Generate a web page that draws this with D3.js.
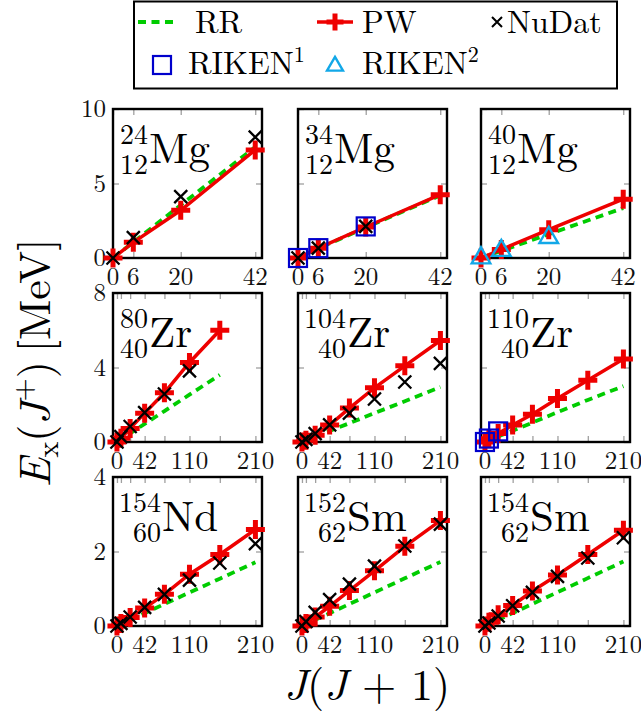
<!DOCTYPE html>
<html><head><meta charset="utf-8">
<script src="https://cdn.jsdelivr.net/npm/d3@7/dist/d3.min.js"></script>
</head>
<body style="margin:0;background:#fff">
<svg id="chart" width="641" height="717"></svg>
<script>
// ---- data ----
const jjMg = [0, 6, 20, 42];
const jjHeavy = [0, 6, 20, 42, 72, 110, 156, 210];
const xTicksMg = [0, 6, 20, 42];
const xTickLabelsMg = [0, 6, 20, 42];
const xTicksHeavy = [0, 6, 20, 42, 72, 110, 156, 210];
const xTickLabelsHeavy = [0, 42, 110, 210];
const yTicksRow = [[0, 5, 10], [0, 4, 8], [0, 2, 4]];
const yMaxRow = [10, 8, 4];

const mg24PW = [0, 1.05, 3.2, 7.25];
const mg24RR = [0, 1.06, 3.55, 7.45];
const mg24Nu = [0, 1.37, 4.12, 8.11];

const mg34PW = [0, 0.66, 2.08, 4.25];
const mg34RR = [0, 0.64, 2.05, 4.2];
const mg34Nu = [0, 0.66, 2.12];
const mg34Riken1 = [0, 0.66, 2.12];

const mg40PW = [0, 0.57, 1.9, 3.95];
const mg40RR = [0, 0.48, 1.6, 3.35];
const mg40Riken2 = [0, 0.5, 1.37];

const zr80PW = [0, 0.2, 0.73, 1.55, 2.64, 4.27, 6.0];
const zr80RR = [0, 0.14, 0.46, 0.97, 1.66, 2.54, 3.6];
const zr80Nu = [0, 0.29, 0.83, 1.58, 2.58, 3.82];

const zr104PW = [0, 0.1, 0.36, 0.91, 1.82, 2.91, 4.09, 5.45];
const zr104RR = [0, 0.084, 0.28, 0.59, 1.01, 1.55, 2.19, 2.95];
const zr104Nu = [0, 0.14, 0.45, 0.92, 1.55, 2.31, 3.22, 4.22];

const zr110PW = [0, 0.18, 0.45, 0.91, 1.49, 2.33, 3.31, 4.45];
const zr110RR = [0, 0.087, 0.29, 0.61, 1.04, 1.6, 2.26, 3.0];
const zr110Riken1 = [0, 0.185, 0.57];

const nd154PW = [0, 0.07, 0.23, 0.48, 0.85, 1.39, 1.92, 2.59];
const nd154RR = [0, 0.049, 0.16, 0.34, 0.59, 0.9, 1.27, 1.71];
const nd154Nu = [0, 0.07, 0.24, 0.5, 0.85, 1.23, 1.69, 2.21];

const sm152PW = [0, 0.07, 0.24, 0.53, 0.95, 1.48, 2.14, 2.83];
const sm152RR = [0, 0.049, 0.164, 0.344, 0.59, 0.9, 1.28, 1.72];
const sm152Nu = [0, 0.122, 0.367, 0.707, 1.125, 1.609, 2.149, 2.736];

const sm154PW = [0, 0.1, 0.3, 0.55, 0.94, 1.37, 1.92, 2.57];
const sm154RR = [0, 0.049, 0.165, 0.346, 0.593, 0.906, 1.285, 1.73];
const sm154Nu = [0, 0.082, 0.267, 0.544, 0.903, 1.333, 1.826, 2.37];

const panels = [
  {A: "24", Z: "12", el: "Mg", pw: mg24PW, rr: mg24RR, nu: mg24Nu, r1: null, r2: null},
  {A: "34", Z: "12", el: "Mg", pw: mg34PW, rr: mg34RR, nu: mg34Nu, r1: mg34Riken1, r2: null},
  {A: "40", Z: "12", el: "Mg", pw: mg40PW, rr: mg40RR, nu: null, r1: null, r2: mg40Riken2},
  {A: "80", Z: "40", el: "Zr", pw: zr80PW, rr: zr80RR, nu: zr80Nu, r1: null, r2: null},
  {A: "104", Z: "40", el: "Zr", pw: zr104PW, rr: zr104RR, nu: zr104Nu, r1: null, r2: null},
  {A: "110", Z: "40", el: "Zr", pw: zr110PW, rr: zr110RR, nu: null, r1: zr110Riken1, r2: null},
  {A: "154", Z: "60", el: "Nd", pw: nd154PW, rr: nd154RR, nu: nd154Nu, r1: null, r2: null},
  {A: "152", Z: "62", el: "Sm", pw: sm152PW, rr: sm152RR, nu: sm152Nu, r1: null, r2: null},
  {A: "154", Z: "62", el: "Sm", pw: sm154PW, rr: sm154RR, nu: sm154Nu, r1: null, r2: null}
];

// ---- layout ----
const FONT = "'Latin Modern Roman', 'Liberation Serif', serif";
const colX = [113, 298, 481];
const rowY = [109, 293, 477];
const S = 149;
const GREEN = "#00cc00", RED = "#ee0000", BLUE = "#0000cc", CYAN = "#12a8e8", TICK = "#a0a0a0";
const svg = d3.select("#chart");
const txt = (sel, size) => sel.style("font-family", FONT).style("font-size", size + "px");

const plusPath = s => `M${-s},0H${s}M0,${-s}V${s}`;
const crossPath = s => `M${-s},${-s}L${s},${s}M${-s},${s}L${s},${-s}`;

panels.forEach((p, i) => {
  const row = Math.floor(i / 3), col = i % 3;
  const x0 = colX[col], y0 = rowY[row];
  const isMg = row === 0;
  const jj = isMg ? jjMg : jjHeavy;
  const x = d3.scaleLinear().domain(isMg ? [0, 44] : [-6, 220]).range([x0, x0 + S]);
  const y = d3.scaleLinear().domain([0, yMaxRow[row]]).range([y0 + S, y0]);
  const g = svg.append("g");

  const xt = isMg ? xTicksMg : xTicksHeavy;
  const xtl = isMg ? xTickLabelsMg : xTickLabelsHeavy;
  const bottomAxis = d3.axisBottom(x).tickValues(xt).tickSize(-6).tickFormat("");
  const topAxis = d3.axisTop(x).tickValues(xt).tickSize(-6).tickFormat("");
  const leftAxis = d3.axisLeft(y).tickValues(yTicksRow[row]).tickSize(-6).tickFormat("");
  const rightAxis = d3.axisRight(y).tickValues(yTicksRow[row]).tickSize(-6).tickFormat("");
  [[bottomAxis, `translate(0,${y0 + S})`], [topAxis, `translate(0,${y0})`],
   [leftAxis, `translate(${x0},0)`], [rightAxis, `translate(${x0 + S},0)`]].forEach(([ax, tr]) => {
    const a = g.append("g").attr("transform", tr).call(ax);
    a.select(".domain").remove();
    a.selectAll("line").attr("stroke", TICK).attr("stroke-width", 1.3);
  });
  g.selectAll(".xl").data(xtl).join("text")
    .attr("x", d => x(d)).attr("y", y0 + S + 27)
    .attr("text-anchor", "middle").attr("fill", "#111")
    .call(txt, 25).text(d => d);
  if (col === 0) {
    g.selectAll(".yl").data(yTicksRow[row]).join("text")
      .attr("x", x0 - 7).attr("y", d => y(d)).attr("dy", "0.33em")
      .attr("text-anchor", "end").attr("fill", "#111")
      .call(txt, 25).text(d => d);
  }
  g.append("rect").attr("x", x0).attr("y", y0).attr("width", S).attr("height", S)
    .attr("fill", "none").attr("stroke", "#000").attr("stroke-width", 2.4);

  const lab = g.append("g");
  const numX = x0 + 5 + (p.A.length === 3 ? 43 : 30);
  lab.append("text").attr("x", numX).attr("y", y0 + 35).attr("text-anchor", "end")
    .call(txt, 28).text(p.A);
  lab.append("text").attr("x", numX).attr("y", y0 + 65).attr("text-anchor", "end")
    .call(txt, 28).text(p.Z);
  lab.append("text").attr("x", numX + 1).attr("y", y0 + 54)
    .call(txt, 43).text(p.el);

  const line = d3.line().x((d, k) => x(jj[k])).y(d => y(d));
  g.append("path").datum(p.rr).attr("d", line).attr("fill", "none")
    .attr("stroke", GREEN).attr("stroke-width", 3.8).attr("stroke-dasharray", "8,5.5");
  g.append("path").datum(p.pw).attr("d", line).attr("fill", "none")
    .attr("stroke", RED).attr("stroke-width", 3.5);
  g.selectAll(".pw").data(p.pw).join("path")
    .attr("transform", (d, k) => `translate(${x(jj[k])},${y(d)})`)
    .attr("d", plusPath(9.5)).attr("stroke", RED).attr("stroke-width", 5).attr("fill", "none");
  if (p.r1) {
    g.selectAll(".r1").data(p.r1).join("rect")
      .attr("x", (d, k) => x(jj[k]) - 9).attr("y", d => y(d) - 9)
      .attr("width", 18).attr("height", 18)
      .attr("fill", "none").attr("stroke", BLUE).attr("stroke-width", 2.2);
  }
  if (p.r2) {
    const tri = d3.symbol().type(d3.symbolTriangle).size(150);
    g.selectAll(".r2").data(p.r2).join("path")
      .attr("transform", (d, k) => `translate(${x(jj[k])},${y(d)})`)
      .attr("d", tri).attr("fill", "none").attr("stroke", CYAN).attr("stroke-width", 2.4);
  }
  if (p.nu) {
    g.selectAll(".nu").data(p.nu).join("path")
      .attr("transform", (d, k) => `translate(${x(jj[k])},${y(d)})`)
      .attr("d", crossPath(6.5)).attr("stroke", "#000").attr("stroke-width", 2.3).attr("fill", "none");
  }
});

// ---- axis titles ----
const yl = svg.append("text").attr("transform", "translate(50,363) rotate(-90)")
  .attr("text-anchor", "middle").call(txt, 44);
yl.append("tspan").style("font-style", "italic").text("E");
yl.append("tspan").style("font-size", "30px").attr("dy", 8).text("x");
yl.append("tspan").attr("dy", -8).text("(");
yl.append("tspan").style("font-style", "italic").text("J");
yl.append("tspan").style("font-size", "30px").attr("dy", -17).text("+");
yl.append("tspan").attr("dy", 17).text(")\u2009[MeV]");

const xl = svg.append("text").attr("x", 367).attr("y", 700)
  .attr("text-anchor", "middle").call(txt, 44);
xl.append("tspan").style("font-style", "italic").text("J");
xl.append("tspan").text("(");
xl.append("tspan").style("font-style", "italic").text("J");
xl.append("tspan").text(" + 1)");

// ---- legend ----
const lg = svg.append("g");
lg.append("rect").attr("x", 134).attr("y", 1.5).attr("width", 483).attr("height", 87)
  .attr("fill", "#fff").attr("stroke", "#000").attr("stroke-width", 2);
lg.append("line").attr("x1", 138).attr("x2", 176).attr("y1", 22).attr("y2", 22)
  .attr("stroke", GREEN).attr("stroke-width", 3.8).attr("stroke-dasharray", "8,5.5");
lg.append("text").attr("x", 195).attr("y", 33).call(txt, 32).text("RR");
lg.append("line").attr("x1", 317).attr("x2", 353).attr("y1", 22).attr("y2", 22)
  .attr("stroke", RED).attr("stroke-width", 3.5);
lg.append("path").attr("transform", "translate(335,22)").attr("d", plusPath(8.5))
  .attr("stroke", RED).attr("stroke-width", 5);
lg.append("text").attr("x", 362).attr("y", 33).call(txt, 32).text("PW");
lg.append("path").attr("transform", "translate(497,22)").attr("d", crossPath(5))
  .attr("stroke", "#000").attr("stroke-width", 2);
lg.append("text").attr("x", 507).attr("y", 33).call(txt, 32).text("NuDat");
lg.append("rect").attr("x", 153).attr("y", 56).attr("width", 18).attr("height", 18)
  .attr("fill", "none").attr("stroke", BLUE).attr("stroke-width", 2.2);
const t1 = lg.append("text").attr("x", 188).attr("y", 74).call(txt, 32);
t1.append("tspan").text("RIKEN");
t1.append("tspan").style("font-size", "22px").attr("dy", -12).text("1");
lg.append("path").attr("transform", "translate(335,66)")
  .attr("d", d3.symbol().type(d3.symbolTriangle).size(110))
  .attr("fill", "none").attr("stroke", CYAN).attr("stroke-width", 2.4);
const t2 = lg.append("text").attr("x", 362).attr("y", 74).call(txt, 32);
t2.append("tspan").text("RIKEN");
t2.append("tspan").style("font-size", "22px").attr("dy", -12).text("2");
</script>
</body></html>
